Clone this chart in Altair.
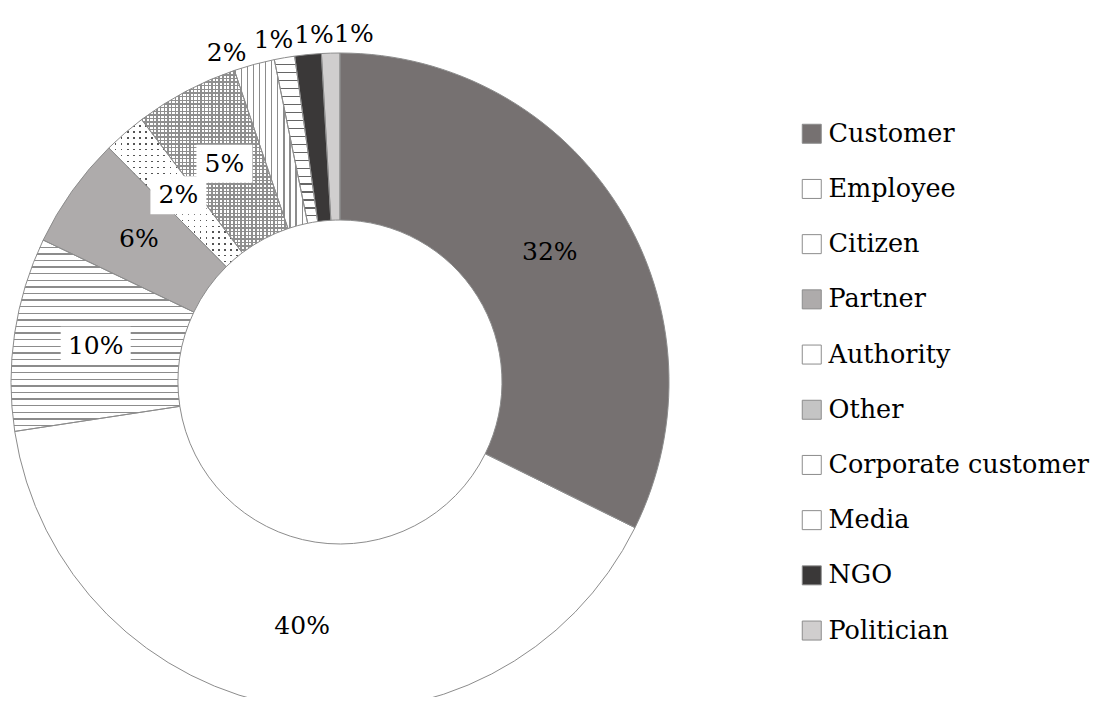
import altair as alt
import pandas as pd

categories = ["Customer", "Employee", "Citizen", "Partner", "Authority", "Other",
              "Corporate customer", "Media", "NGO", "Politician"]
shares = [32.3, 40.3, 9.5, 5.5, 2.1, 5.1, 2.0, 1.0, 1.3, 0.9]
labels = ["32%", "40%", "10%", "6%", "2%", "5%", "2%", "1%", "1%", "1%"]
colors = ["#767171", "#ffffff", "#ffffff", "#aeabab", "#ffffff", "#c4c4c4",
          "#ffffff", "#ffffff", "#3a3838", "#d0cece"]
boxed = ["Citizen", "Authority", "Other"]

df = pd.DataFrame({"category": categories, "share": shares, "label": labels,
                   "idx": list(range(len(categories)))})

CX, CY = 332, 374
R_OUT, R_IN = 329, 162
EDGE = "#8c8c8c"
FONT = "DejaVu Serif"
CLEAR = "rgba(255,255,255,0)"


def stripes(n, direction, on, off, frac):
    stops = []
    for k in range(n):
        a, b, c = k / n, (k + frac) / n, (k + 1) / n
        stops += [{"offset": a, "color": on}, {"offset": b, "color": on},
                  {"offset": b, "color": off}, {"offset": c, "color": off}]
    g = {"gradient": "linear", "stops": stops}
    if direction == "h":
        g.update(x1=0, y1=0, x2=0, y2=1)
    else:
        g.update(x1=0, y1=0, x2=1, y2=0)
    return g


base = alt.Chart(df).encode(
    theta=alt.Theta("share:Q", stack=True),
    order=alt.Order("idx:Q"),
    x=alt.value(CX),
    y=alt.value(CY),
)

fill_layer = base.mark_arc(outerRadius=R_OUT, innerRadius=R_IN, strokeWidth=0).encode(
    color=alt.Color(
        "category:N",
        sort=categories,
        scale=alt.Scale(domain=categories, range=colors),
        legend=alt.Legend(
            title=None, orient="none", legendX=791, legendY=113,
            symbolType="square", symbolSize=361,
            symbolStrokeColor=EDGE, symbolStrokeWidth=1,
            labelFont=FONT, labelFontSize=25.5, labelColor="black",
            rowPadding=28.2, labelOffset=4, padding=0, labelLimit=400,
        ),
    )
)


def pattern(cat, grad):
    return base.mark_arc(outerRadius=R_OUT, innerRadius=R_IN, fill=grad,
                         strokeWidth=0).encode(
        opacity=alt.condition(alt.datum.category == cat, alt.value(1), alt.value(0))
    )


patterns = [
    pattern("Citizen", stripes(29, "h", EDGE, "#ffffff", 0.21)),
    pattern("Corporate customer", stripes(12, "v", EDGE, "#ffffff", 0.22)),
    pattern("Media", stripes(21, "h", "#666666", "#ffffff", 0.15)),
    pattern("Authority", stripes(22, "v", "#555555", "#ffffff", 0.25)),
    pattern("Authority", stripes(25, "h", CLEAR, "#ffffff", 0.25)),
    pattern("Other", stripes(40, "v", "#8f8f8f", "#ffffff", 0.4)),
    pattern("Other", stripes(50, "h", "#8f8f8f", CLEAR, 0.4)),
]

outline = base.mark_arc(outerRadius=R_OUT, innerRadius=R_IN, fillOpacity=0,
                        stroke=EDGE, strokeWidth=1)

lab = (
    alt.Chart(df)
    .transform_joinaggregate(total="sum(share)")
    .transform_window(cum="sum(share)", sort=[alt.SortField("idx")], frame=[None, 0])
    .transform_calculate(
        mid="(datum.cum - datum.share/2)/datum.total*360"
            " + (datum.idx >= 6 ? (datum.idx - 7.5)*2.6 : 0)",
        rr="datum.idx >= 6 ? 348 : 247",
    )
    .transform_calculate(
        lx=f"{CX} + datum.rr*sin(datum.mid*PI/180)",
        ly=f"{CY} - datum.rr*cos(datum.mid*PI/180)",
    )
)

boxes = (
    lab.transform_filter(alt.FieldOneOfPredicate(field="category", oneOf=boxed))
    .transform_calculate(bw="length(datum.label)*14 + 28")
    .transform_calculate(
        bx1="datum.lx - datum.bw/2", bx2="datum.lx + datum.bw/2",
        by1="datum.ly - 19", by2="datum.ly + 19",
    )
    .mark_rect(fill="white", strokeWidth=0)
    .encode(
        x=alt.X("bx1:Q", scale=None, axis=None), x2="bx2:Q",
        y=alt.Y("by1:Q", scale=None, axis=None), y2="by2:Q",
    )
)

texts = lab.mark_text(font=FONT, fontSize=25, align="center", baseline="middle",
                      color="black").encode(
    x=alt.X("lx:Q", scale=None, axis=None),
    y=alt.Y("ly:Q", scale=None, axis=None),
    text="label:N",
)

chart = (
    alt.layer(fill_layer, *patterns, outline, boxes, texts)
    .properties(width=1086, height=689, padding=0, autosize="none")
    .configure_view(stroke=None)
)

chart.save("out.html", embed_options={"renderer": "svg", "actions": False})
